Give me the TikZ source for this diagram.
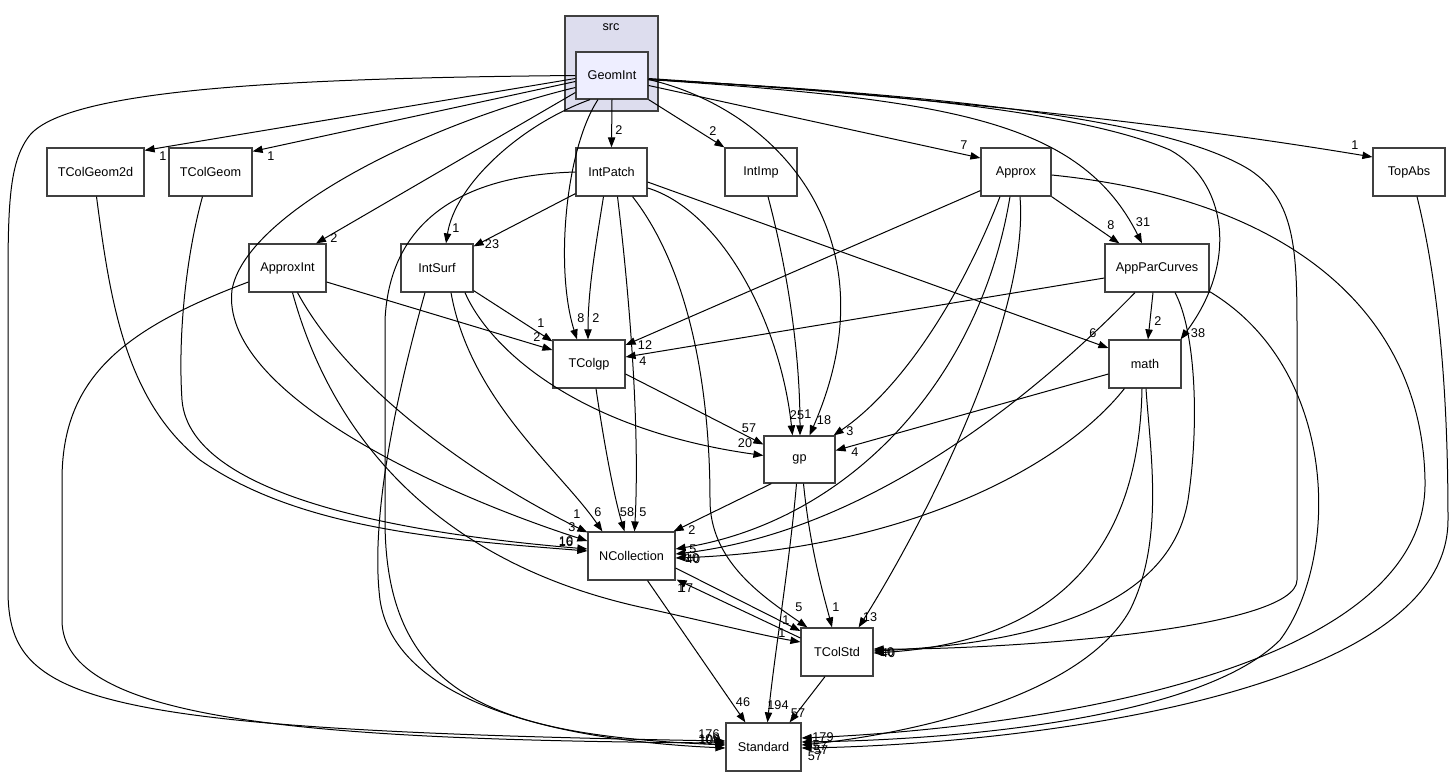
\documentclass[tikz,border=0pt]{standalone}
\usepackage{fontspec}
\setmainfont{Liberation Sans}
\usetikzlibrary{arrows.meta,calc}
\definecolor{clfill}{HTML}{DDDDEE}
\definecolor{gifill}{HTML}{EEEEFF}
\definecolor{bord}{HTML}{404040}
\begin{document}
\begin{tikzpicture}[x=0.75pt,y=-0.75pt,
  box/.style={draw=bord, line width=0.9pt, fill=white, inner sep=0pt, minimum height=36pt, minimum width=54pt, font=\fontsize{9.5}{11}\selectfont},
  cluster/.style={draw=bord, line width=0.9pt, fill=clfill, inner sep=0pt},
  dep/.style={draw=black, line width=0.75pt, -{Triangle[length=7.5pt,width=5.5pt]}},
  lab/.style={inner sep=0pt, font=\fontsize{9.5}{11}\selectfont}]
\useasboundingbox (0,0) rectangle (1454,777);

% cluster and nodes
\node[cluster, minimum width=69.75pt, minimum height=71.25pt] (src) at (611.5,63.5) {};
\node[lab] (srclab) at (611,27) {src};
\node[box, fill=gifill, minimum height=35.25pt] (GeomInt) at (612,75.5) {GeomInt};
\node[box, minimum width=72.75pt] (TColGeom2d) at (95.5,172) {TColGeom2d};
\node[box, minimum width=62.25pt] (TColGeom) at (210.5,172) {TColGeom};
\node[box, minimum width=53.25pt] (IntPatch) at (611.5,172) {IntPatch};
\node[box] (IntImp) at (761,172) {IntImp};
\node[box, minimum width=52.5pt] (Approx) at (1016,172) {Approx};
\node[box] (TopAbs) at (1409,172) {TopAbs};
\node[box, minimum width=57.75pt] (ApproxInt) at (287.5,268) {ApproxInt};
\node[box] (IntSurf) at (437,268) {IntSurf};
\node[box, minimum width=78pt] (AppParCurves) at (1157,268) {AppParCurves};
\node[box] (TColgp) at (589,364) {TColgp};
\node[box] (math) at (1145,364) {math};
\node[box, minimum width=53.25pt, minimum height=35.25pt] (gp) at (799.5,459.5) {gp};
\node[box, minimum width=65.25pt] (NCollection) at (631.5,556) {NCollection};
\node[box] (TColStd) at (837,652) {TColStd};
\node[box, minimum width=56.25pt] (Standard) at (763.5,747) {Standard};

% GeomInt
\draw[dep] ($(GeomInt.west)+(0,0)$) .. controls (300,78) and (70,88) .. (30,135) .. controls (10,160) and (8,200) .. (8,280) -- (8,590) .. controls (8,700) and (80,730) .. ($(Standard.west)+(0,-6)$);
\draw[dep] ($(GeomInt.west)+(0,3)$) -- ($(TColGeom2d.north east)+(0,3)$);
\draw[dep] ($(GeomInt.west)+(0,6)$) -- ($(TColGeom.north east)+(0,4)$);
\draw[dep] ($(GeomInt.west)+(0,12)$) .. controls (420,125) and (245,215) .. (232,290) .. controls (220,390) and (430,490) .. ($(NCollection.west)+(0,-15)$);
\draw[dep] ($(GeomInt.west)+(0,17)$) -- ($(ApproxInt.north)+(28.5,0)$);
\draw[dep] ($(GeomInt.south)+(-22,0)$) .. controls (520,125) and (455,185) .. ($(IntSurf.north)+(9,0)$);
\draw[dep] ($(GeomInt.south)+(-14,0)$) .. controls (565,150) and (555,270) .. ($(TColgp.north)+(-12,0)$);
\draw[dep] (GeomInt.south) -- (IntPatch.north);
\draw[dep] (GeomInt.south east) -- ($(IntImp.north west)+(0,0)$);
\draw[dep] ($(GeomInt.east)+(0,4)$) .. controls (780,110) and (895,240) .. ($(gp.north)+(10,0)$);
\draw[dep] ($(GeomInt.east)+(0,10)$) -- ($(Approx.west)+(0,-14)$);
\draw[dep] ($(GeomInt.east)+(0,4)$) .. controls (950,100) and (1080,120) .. ($(AppParCurves.north)+(-15,0)$);
\draw[dep] ($(GeomInt.east)+(0,4)$) .. controls (950,95) and (1100,120) .. (1170,150) .. controls (1225,180) and (1240,260) .. ($(math.north east)+(-1,0)$);
\draw[dep] ($(GeomInt.east)+(0,4)$) .. controls (950,95) and (1170,120) .. (1250,170) .. controls (1295,200) and (1297,250) .. (1297,330) -- (1297,580) .. controls (1297,630) and (1000,650) .. ($(TColStd.east)+(0,-3)$);
\draw[dep] ($(GeomInt.east)+(0,3)$) .. controls (900,95) and (1150,120) .. ($(TopAbs.west)+(0,-15)$);

% IntPatch
\draw[dep] ($(IntPatch.south west)+(0,-3)$) -- ($(IntSurf.north east)+(0,3)$);
\draw[dep] ($(IntPatch.south)+(-8,0)$) .. controls (595,250) and (588,290) .. ($(TColgp.north)+(-1,0)$);
\draw[dep] ($(IntPatch.south)+(6,0)$) .. controls (630,300) and (640,430) .. ($(NCollection.north)+(3,0)$);
\draw[dep] ($(IntPatch.south)+(21,0)$) .. controls (690,270) and (710,390) .. (710,500) .. controls (710,560) and (760,595) .. ($(TColStd.north west)+(7,0)$);
\draw[dep] ($(IntPatch.east)+(0,16)$) .. controls (720,210) and (780,320) .. ($(gp.north)+(-7,0)$);
\draw[dep] ($(IntPatch.east)+(0,10)$) -- ($(math.west)+(0,-16)$);
\draw[dep] (IntPatch.west) .. controls (470,175) and (390,215) .. (385,320) -- (385,520) .. controls (385,700) and (500,735) .. ($(Standard.west)+(0,-2)$);

% IntSurf
\draw[dep] ($(IntSurf.south east)+(0,-2)$) -- ($(TColgp.north west)+(0,2)$);
\draw[dep] ($(IntSurf.south)+(28,0)$) .. controls (490,350) and (580,430) .. ($(gp.west)+(0,-4)$);
\draw[dep] ($(IntSurf.south)+(14,0)$) .. controls (470,400) and (560,470) .. ($(NCollection.north west)+(15,0)$);
\draw[dep] ($(IntSurf.south)+(-12,0)$) .. controls (395,400) and (370,520) .. (380,600) .. controls (395,700) and (550,740) .. ($(Standard.west)+(0,1)$);

% ApproxInt
\draw[dep] ($(ApproxInt.east)+(0,14)$) -- ($(TColgp.west)+(0,-14)$);
\draw[dep] ($(ApproxInt.south)+(10,0)$) .. controls (350,390) and (480,480) .. ($(NCollection.north west)+(0,1)$);
\draw[dep] ($(ApproxInt.south)+(5,0)$) .. controls (330,430) and (430,560) .. (640,607) .. controls (700,620) and (760,635) .. ($(TColStd.west)+(0,-10)$);
\draw[dep] ($(ApproxInt.west)+(0,14)$) .. controls (120,330) and (62,380) .. (62,480) -- (62,620) .. controls (62,720) and (300,740) .. ($(Standard.west)+(0,-4)$);

% IntImp
\draw[dep] ($(IntImp.south)+(7,0)$) .. controls (790,280) and (800,360) .. ($(gp.north)+(0.5,0)$);

% Approx
\draw[dep] ($(Approx.south west)+(0,-6)$) -- ($(TColgp.east)+(0,-19)$);
\draw[dep] (Approx.south east) -- ($(AppParCurves.north west)+(15,0)$);
\draw[dep] ($(Approx.south)+(-16,0)$) .. controls (960,300) and (900,390) .. ($(gp.north east)+(-2,0)$);
\draw[dep] ($(Approx.south)+(-6,0)$) .. controls (980,380) and (850,520) .. ($(NCollection.east)+(0,-7)$);
\draw[dep] ($(Approx.south)+(4,0)$) .. controls (1030,320) and (920,530) .. ($(TColStd.north east)+(-15,0)$);
\draw[dep] ($(Approx.east)+(0,3)$) .. controls (1300,200) and (1422,320) .. (1425,480) .. controls (1430,680) and (1000,730) .. ($(Standard.east)+(0,-9)$);

% TopAbs
\draw[dep] ($(TopAbs.south)+(8,0)$) .. controls (1440,290) and (1448,400) .. (1448,520) .. controls (1448,700) and (1000,745) .. ($(Standard.east)+(0,1)$);

% AppParCurves
\draw[dep] ($(AppParCurves.west)+(0,10)$) -- ($(TColgp.east)+(0,-7)$);
\draw[dep] ($(AppParCurves.south)+(-4,0)$) -- ($(math.north)+(3,0)$);
\draw[dep] ($(AppParCurves.south)+(-22,0)$) .. controls (1050,380) and (880,530) .. ($(NCollection.east)+(0,-2)$);
\draw[dep] ($(AppParCurves.south)+(18,0)$) .. controls (1195,330) and (1200,420) .. (1188,500) .. controls (1168,620) and (1000,645) .. ($(TColStd.east)+(0,-1)$);
\draw[dep] ($(AppParCurves.south east)+(0,-1)$) .. controls (1340,370) and (1340,560) .. (1280,640) .. controls (1200,720) and (950,740) .. ($(Standard.east)+(0,-5)$);

% math
\draw[dep] ($(math.west)+(0,10)$) -- ($(gp.east)+(0,-9)$);
\draw[dep] ($(math.south west)+(16,0)$) .. controls (1060,470) and (900,550) .. ($(NCollection.east)+(0,2)$);
\draw[dep] ($(math.south)+(-3,0)$) .. controls (1140,500) and (1100,640) .. ($(TColStd.east)+(0,1)$);
\draw[dep] ($(math.south)+(1,0)$) .. controls (1150,450) and (1165,540) .. (1130,610) .. controls (1080,700) and (900,735) .. ($(Standard.east)+(0,-2)$);

% TColgp
\draw[dep] ($(TColgp.east)+(0,10)$) -- ($(gp.west)+(0,-15)$);
\draw[dep] ($(TColgp.south)+(7,0)$) .. controls (605,450) and (615,500) .. ($(NCollection.north)+(-7,0)$);

% gp
\draw[dep] ($(gp.south west)+(8,0)$) -- ($(NCollection.north east)+(-2,0)$);
\draw[dep] ($(gp.south)+(4,0)$) .. controls (810,550) and (825,600) .. ($(TColStd.north)+(-5,0)$);
\draw[dep] ($(gp.south)+(-3,0)$) .. controls (790,560) and (775,650) .. ($(Standard.north)+(4,0)$);

% NCollection / TColStd
\draw[dep] ($(NCollection.east)+(0,12)$) -- ($(TColStd.west)+(0,-21)$);
\draw[dep] ($(TColStd.west)+(0,-14)$) -- ($(NCollection.south east)+(1,-1)$);
\draw[dep] ($(NCollection.south)+(16,0)$) -- ($(Standard.north west)+(20,0)$);
\draw[dep] ($(TColStd.south)+(-12,0)$) -- ($(Standard.north east)+(-12,0)$);

% TColGeom2d / TColGeom
\draw[dep] ($(TColGeom2d.south)+(1,0)$) .. controls (110,300) and (125,400) .. (200,460) .. controls (300,530) and (450,540) .. ($(NCollection.west)+(0,-5)$);
\draw[dep] ($(TColGeom.south)+(-8,0)$) .. controls (185,260) and (178,340) .. (182,400) .. controls (190,500) and (420,535) .. ($(NCollection.west)+(0,-7)$);

% labels
\node[lab] (l1) at (163,156) {1};
\node[lab] (l2) at (271,156) {1};
\node[lab] (l3) at (334,238) {2};
\node[lab] (l4) at (456,228) {1};
\node[lab] (l5) at (492,244) {23};
\node[lab] (l6) at (581,318) {8};
\node[lab] (l7) at (596,318) {2};
\node[lab] (l8) at (541,323) {1};
\node[lab] (l9) at (537,337) {2};
\node[lab] (l10) at (645,345) {12};
\node[lab] (l11) at (643,361) {4};
\node[lab] (l12) at (619,130) {2};
\node[lab] (l13) at (713,131) {2};
\node[lab] (l14) at (964,145) {7};
\node[lab] (l15) at (1355,145) {1};
\node[lab] (l16) at (1111,225) {8};
\node[lab] (l17) at (1143,222) {31};
\node[lab] (l18) at (1093,333) {6};
\node[lab] (l19) at (1158,321) {2};
\node[lab] (l20) at (1198,333) {38};
\node[lab] (l21) at (749,428) {57};
\node[lab] (l22) at (745,443) {20};
\node[lab] (l23) at (797,415) {25};
\node[lab] (l24) at (808,414) {1};
\node[lab] (l25) at (824,420) {18};
\node[lab] (l26) at (850,431) {3};
\node[lab] (l27) at (855,452) {4};
\node[lab] (l28) at (577,514) {1};
\node[lab] (l29) at (572,527) {3};
\node[lab] (l30) at (566,541) {10};
\node[lab] (l31) at (566,542) {16};
\node[lab] (l32) at (598,512) {6};
\node[lab] (l33) at (627,512) {58};
\node[lab] (l34) at (643,512) {5};
\node[lab] (l35) at (692,530) {2};
\node[lab] (l36) at (693,549) {5};
\node[lab] (l37) at (692,558) {10};
\node[lab] (l38) at (693,559) {40};
\node[lab] (l39) at (681,588) {1};
\node[lab] (l40) at (686,588) {17};
\node[lab] (l41) at (799,607) {5};
\node[lab] (l42) at (786,620) {1};
\node[lab] (l43) at (782,633) {1};
\node[lab] (l44) at (836,607) {1};
\node[lab] (l45) at (870,617) {13};
\node[lab] (l46) at (887,652) {10};
\node[lab] (l47) at (888,653) {40};
\node[lab] (l48) at (743,702) {46};
\node[lab] (l49) at (778,705) {194};
\node[lab] (l50) at (798,713) {57};
\node[lab] (l51) at (709,734) {176};
\node[lab] (l52) at (709,739) {109};
\node[lab] (l53) at (710,740) {100};
\node[lab] (l54) at (823,737) {179};
\node[lab] (l55) at (820,746) {57};
\node[lab] (l56) at (821,750) {57};
\node[lab] (l57) at (815,756) {57};
\end{tikzpicture}
\end{document}
